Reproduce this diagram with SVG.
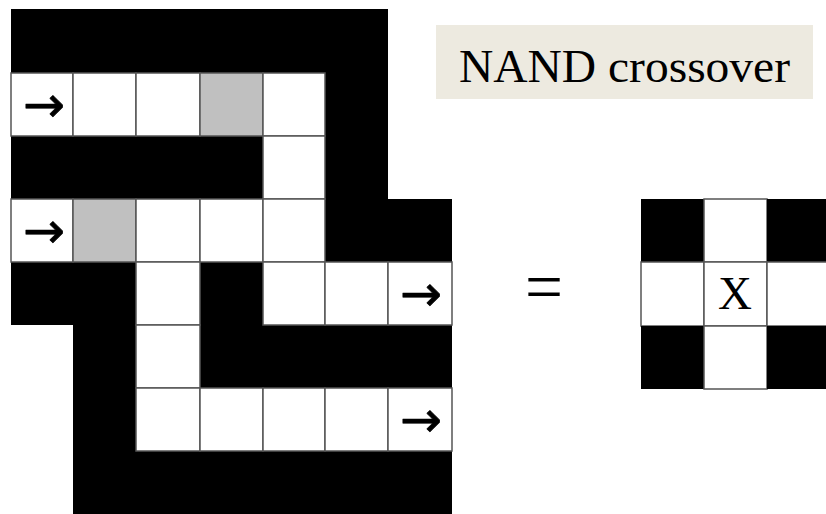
<svg xmlns="http://www.w3.org/2000/svg" width="826" height="514" viewBox="0 0 826 514">
<style>
.b{fill:#000}
.w{fill:#fff;stroke:#555;stroke-width:1.5}
.g{fill:#c0c0c0;stroke:#555;stroke-width:1.5}
.arr{font-family:"DejaVu Sans",sans-serif;font-size:50px;text-anchor:middle;fill:#000;stroke:#000;stroke-width:0.8;stroke-linejoin:round}
.serif{font-family:"Liberation Serif",serif;fill:#000}
</style>
<rect width="826" height="514" fill="#fff"/>
<g id="maze">
<g id="walls">
<rect class="b" x="11" y="9" width="377" height="64"/>
<rect class="b" x="325" y="9" width="63" height="253"/>
<rect class="b" x="11" y="136" width="252" height="63"/>
<rect class="b" x="325" y="199" width="127" height="63"/>
<rect class="b" x="11" y="262" width="125" height="63"/>
<rect class="b" x="73" y="262" width="63" height="252"/>
<rect class="b" x="200" y="262" width="63" height="126"/>
<rect class="b" x="200" y="325" width="252" height="63"/>
<rect class="b" x="73" y="451" width="379" height="63"/>
</g>
<g id="cells">
<rect class="w" x="11" y="73" width="62" height="63"/>
<rect class="w" x="73" y="73" width="63" height="63"/>
<rect class="w" x="136" y="73" width="64" height="63"/>
<rect class="g" x="200" y="73" width="63" height="63"/>
<rect class="w" x="263" y="73" width="62" height="63"/>
<rect class="w" x="263" y="136" width="62" height="63"/>
<rect class="w" x="11" y="199" width="62" height="63"/>
<rect class="g" x="73" y="199" width="63" height="63"/>
<rect class="w" x="136" y="199" width="64" height="63"/>
<rect class="w" x="200" y="199" width="63" height="63"/>
<rect class="w" x="263" y="199" width="62" height="63"/>
<rect class="w" x="136" y="262" width="64" height="63"/>
<rect class="w" x="263" y="262" width="62" height="63"/>
<rect class="w" x="325" y="262" width="63" height="63"/>
<rect class="w" x="388" y="262" width="64" height="63"/>
<rect class="w" x="136" y="325" width="64" height="63"/>
<rect class="w" x="136" y="388" width="64" height="63"/>
<rect class="w" x="200" y="388" width="63" height="63"/>
<rect class="w" x="263" y="388" width="62" height="63"/>
<rect class="w" x="325" y="388" width="63" height="63"/>
<rect class="w" x="388" y="388" width="64" height="63"/>
</g>
<g id="arrows">
<text class="arr" x="44" y="122">→</text>
<text class="arr" x="44" y="248">→</text>
<text class="arr" x="421" y="311">→</text>
<text class="arr" x="421" y="437">→</text>
</g>
</g>
<g id="label">
<rect x="436" y="25" width="377" height="74" fill="#edeae0"/>
<text class="serif" x="459" y="82" font-size="46" textLength="331" lengthAdjust="spacingAndGlyphs">NAND crossover</text>
</g>
<g id="equals">
<text class="serif" x="544" y="311" font-size="72" text-anchor="middle" textLength="38" lengthAdjust="spacingAndGlyphs">=</text>
</g>
<g id="crossover">
<rect class="b" x="641" y="199" width="63" height="63"/>
<rect class="w" x="704" y="199" width="63" height="63"/>
<rect class="b" x="767" y="199" width="63" height="63"/>
<rect class="w" x="641" y="262" width="63" height="64"/>
<rect class="w" x="704" y="262" width="63" height="64"/>
<rect class="w" x="767" y="262" width="63" height="64"/>
<rect class="b" x="641" y="326" width="63" height="63"/>
<rect class="w" x="704" y="326" width="63" height="63"/>
<rect class="b" x="767" y="326" width="63" height="63"/>
<text class="serif" x="735" y="309" font-size="47" text-anchor="middle">X</text>
</g>
</svg>
